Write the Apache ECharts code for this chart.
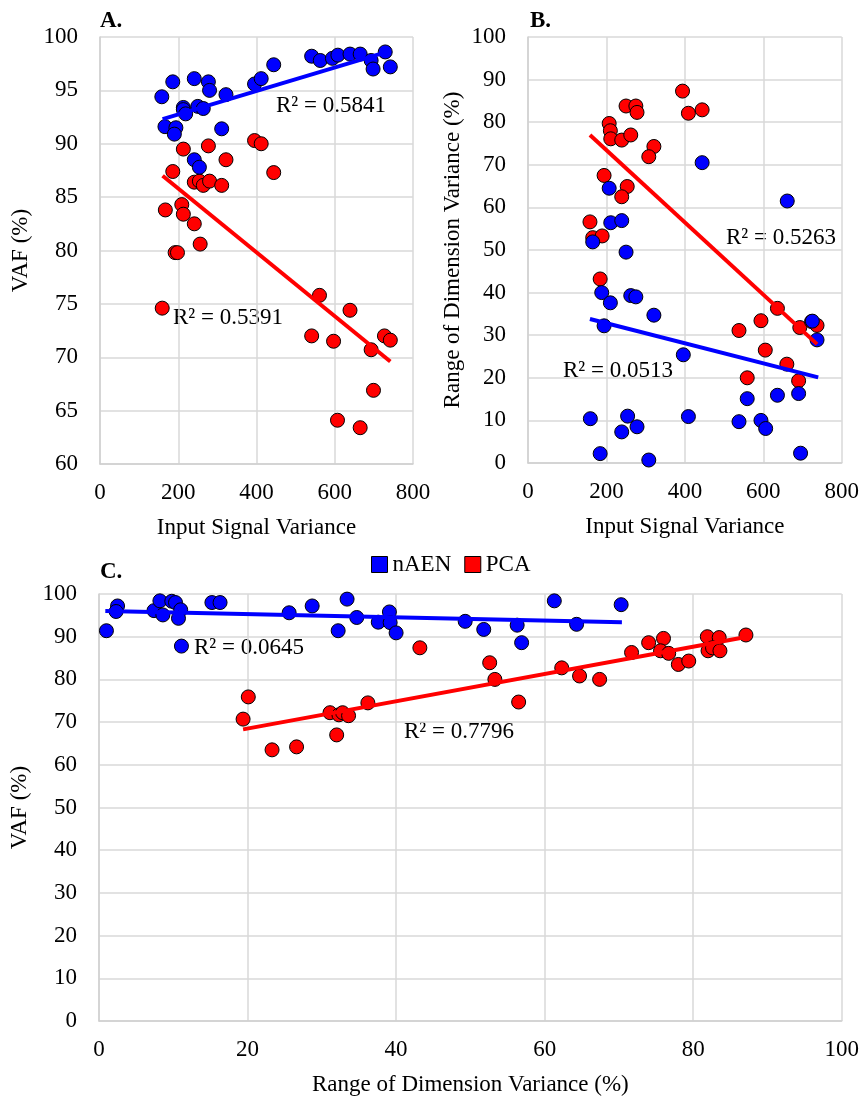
<!DOCTYPE html>
<html>
<head>
<meta charset="utf-8">
<script src="https://cdn.jsdelivr.net/npm/echarts@6/dist/echarts.min.js"></script>
<style>
  html, body { margin: 0; padding: 0; background: #fff; }
  #chart { width: 862px; height: 1097px; }
</style>
</head>
<body>
<div id="chart"></div>
<script>
// panel A: input signal variance vs VAF
const aNaen = [
  [158, 94.4], [186, 95.8], [241, 96.1], [277, 95.8], [280, 95.0], [322, 94.6],
  [213, 93.4], [213, 93.2], [219, 92.8], [250, 93.5], [264, 93.3], [166, 91.6],
  [194, 91.5], [190, 90.9], [311, 91.4], [395, 95.6], [412, 96.1], [444, 97.4],
  [541, 98.2], [563, 97.8], [594, 98.0], [608, 98.3], [639, 98.4], [665, 98.4],
  [693, 97.8], [698, 97.0], [729, 98.6], [742, 97.2], [241, 88.5], [254, 87.8]
];
const aPca = [
  [213, 89.5], [277, 89.8], [322, 88.5], [395, 90.3], [412, 90.0], [444, 87.3],
  [186, 87.4], [241, 86.4], [254, 86.5], [264, 86.1], [280, 86.5], [311, 86.1],
  [167, 83.8], [209, 84.3], [213, 83.4], [241, 82.5], [256, 80.6], [192, 79.8],
  [198, 79.8], [159, 74.6], [561, 75.8], [639, 74.4], [541, 72.0], [597, 71.5],
  [693, 70.7], [727, 72.0], [742, 71.6], [699, 66.9], [607, 64.1], [665, 63.4]
];
const aNaenFit = [[160, 92.3], [742, 98.7]];
const aPcaFit = [[160, 87.0], [742, 69.6]];

// panel B: input signal variance vs range of dimension variance
const bNaen = [
  [444, 70.5], [661, 61.5], [207, 64.5], [211, 56.4], [239, 56.9], [165, 51.9],
  [250, 49.5], [188, 40.0], [210, 37.6], [262, 39.3], [275, 39.0], [321, 34.7],
  [194, 32.2], [396, 25.4], [159, 10.4], [254, 11.0], [239, 7.3], [278, 8.5],
  [409, 10.9], [184, 2.2], [308, 0.7], [538, 9.7], [559, 15.1], [594, 10.0],
  [606, 8.1], [636, 15.9], [690, 16.3], [695, 2.3], [725, 33.3], [737, 28.9]
];
const bPca = [
  [394, 87.3], [409, 82.1], [444, 82.9], [250, 83.8], [275, 83.8], [278, 82.3],
  [207, 79.7], [210, 78.0], [211, 76.1], [239, 75.8], [262, 77.0], [321, 74.3],
  [308, 71.9], [194, 67.5], [253, 64.9], [239, 62.5], [158, 56.6], [165, 52.9],
  [189, 53.3], [184, 43.2], [636, 36.3], [594, 33.4], [538, 31.1], [693, 31.8],
  [723, 33.2], [737, 32.3], [605, 26.5], [660, 23.2], [559, 20.0], [690, 19.3]
];
const bNaenFit = [[158, 33.8], [740, 20.1]];
const bPcaFit = [[158, 77.0], [737, 27.9]];

// panel C: range of dimension variance vs VAF
const cNaen = [
  [1.0, 91.4], [2.5, 97.2], [2.3, 95.9], [7.4, 96.1], [8.2, 98.4], [8.6, 95.1],
  [9.8, 98.3], [10.3, 98.0], [11.0, 96.3], [10.7, 94.3], [11.1, 87.8], [15.2, 98.0],
  [16.3, 98.0], [25.6, 95.6], [28.7, 97.2], [32.2, 91.4], [33.4, 98.8], [34.7, 94.5],
  [37.6, 93.4], [39.1, 95.8], [39.2, 93.3], [40.0, 90.9], [49.3, 93.6], [51.8, 91.7],
  [56.3, 92.7], [56.9, 88.6], [61.3, 98.4], [64.3, 92.9], [70.3, 97.5]
];
const cPca = [
  [43.2, 87.4], [20.1, 75.9], [19.4, 70.7], [23.3, 63.5], [26.6, 64.2], [31.1, 72.2],
  [32.3, 71.7], [32.8, 72.2], [33.6, 71.5], [32.0, 67.0], [36.2, 74.5], [52.6, 83.9],
  [53.3, 80.0], [56.5, 74.7], [62.3, 82.7], [64.7, 80.8], [67.4, 80.0], [71.7, 86.3],
  [74.0, 88.6], [76.0, 89.6], [75.6, 86.7], [76.7, 86.1], [78.0, 83.5], [79.4, 84.3],
  [81.9, 90.0], [83.5, 89.8], [82.0, 86.7], [82.6, 87.4], [83.6, 86.7], [87.1, 90.4]
];
const cNaenFit = [[0.85, 96.0], [70.4, 93.4]];
const cPcaFit = [[19.4, 68.3], [87.3, 90.0]];

const rSquared = ['R² = 0.5841', 'R² = 0.5391', 'R² = 0.5263', 'R² = 0.0513', 'R² = 0.0645', 'R² = 0.7796'];
const panelLabels = ['A.', 'B.', 'C.'];

const BLUE = '#0000ff';
const RED = '#ff0000';
const FONT = '"Liberation Serif", "Times New Roman", serif';
const FS = 23;

const chart = echarts.init(document.getElementById('chart'));

function xAxis(idx, max, interval, name) {
  return {
    gridIndex: idx, type: 'value', min: 0, max: max, interval: interval,
    name: name, nameLocation: 'middle', nameGap: 52,
    nameTextStyle: { fontFamily: FONT, fontSize: FS, color: '#000' },
    axisLine: { show: true, lineStyle: { color: '#d0d0d0', width: 1.5 } },
    axisTick: { show: false },
    axisLabel: { fontFamily: FONT, fontSize: FS, color: '#000', margin: 17 },
    splitLine: { show: true, lineStyle: { color: '#d9d9d9', width: 1.5 } }
  };
}
function yAxis(idx, min, max, interval, name, gap) {
  return {
    gridIndex: idx, type: 'value', min: min, max: max, interval: interval,
    name: name, nameLocation: 'middle', nameGap: gap,
    nameTextStyle: { fontFamily: FONT, fontSize: FS, color: '#000' },
    axisLine: { show: true, lineStyle: { color: '#d0d0d0', width: 1.5 } },
    axisTick: { show: false },
    axisLabel: { fontFamily: FONT, fontSize: FS, color: '#000', margin: 22 },
    splitLine: { show: true, lineStyle: { color: '#d9d9d9', width: 1.5 } }
  };
}
function dots(name, idx, data, color) {
  return {
    name: name, type: 'scatter', xAxisIndex: idx, yAxisIndex: idx,
    data: data, symbolSize: 14,
    itemStyle: { color: color, borderColor: '#000', borderWidth: 1, opacity: 1 },
    z: color === BLUE ? 3 : 2
  };
}
function fit(idx, data, color) {
  return {
    name: 'fit', type: 'line', xAxisIndex: idx, yAxisIndex: idx,
    data: data, showSymbol: false, silent: true,
    lineStyle: { color: color, width: 4 }, z: 5
  };
}
function label(text, left, top, bold) {
  return {
    type: 'text', left: left, top: top,
    style: { text: text, fontFamily: FONT, fontSize: FS, fontWeight: bold ? 'bold' : 'normal', fill: '#000' }
  };
}

chart.setOption({
  animation: false,
  grid: [
    { left: 100, top: 37, width: 313, height: 427 },
    { left: 528, top: 37, width: 314, height: 426 },
    { left: 99, top: 594, width: 744, height: 427 }
  ],
  xAxis: [
    xAxis(0, 800, 200, 'Input Signal Variance'),
    xAxis(1, 800, 200, 'Input Signal Variance'),
    xAxis(2, 100, 20, 'Range of Dimension Variance (%)')
  ],
  yAxis: [
    yAxis(0, 60, 100, 5, 'VAF (%)', 68),
    yAxis(1, 0, 100, 10, 'Range of Dimension Variance (%)', 64),
    yAxis(2, 0, 100, 10, 'VAF (%)', 68)
  ],
  legend: {
    data: ['nAEN', 'PCA'],
    left: 366, top: 548,
    icon: 'rect', itemWidth: 16, itemHeight: 16, itemGap: 13,
    itemStyle: { borderColor: '#000', borderWidth: 1 },
    textStyle: { fontFamily: FONT, fontSize: FS, color: '#000' }
  },
  series: [
    dots('PCA', 0, aPca, RED), dots('nAEN', 0, aNaen, BLUE),
    dots('PCA', 1, bPca, RED), dots('nAEN', 1, bNaen, BLUE),
    dots('PCA', 2, cPca, RED), dots('nAEN', 2, cNaen, BLUE),
    fit(0, aNaenFit, BLUE), fit(0, aPcaFit, RED),
    fit(1, bNaenFit, BLUE), fit(1, bPcaFit, RED),
    fit(2, cNaenFit, BLUE), fit(2, cPcaFit, RED)
  ],
  graphic: [
    label(panelLabels[0], 100, 10, true),
    label(panelLabels[1], 530, 10, true),
    label(panelLabels[2], 100, 561, true),
    label(rSquared[0], 276, 94),
    label(rSquared[1], 173, 306),
    label(rSquared[2], 726, 226),
    label(rSquared[3], 563, 359),
    label(rSquared[4], 194, 636),
    label(rSquared[5], 404, 720)
  ]
});
</script>
</body>
</html>
